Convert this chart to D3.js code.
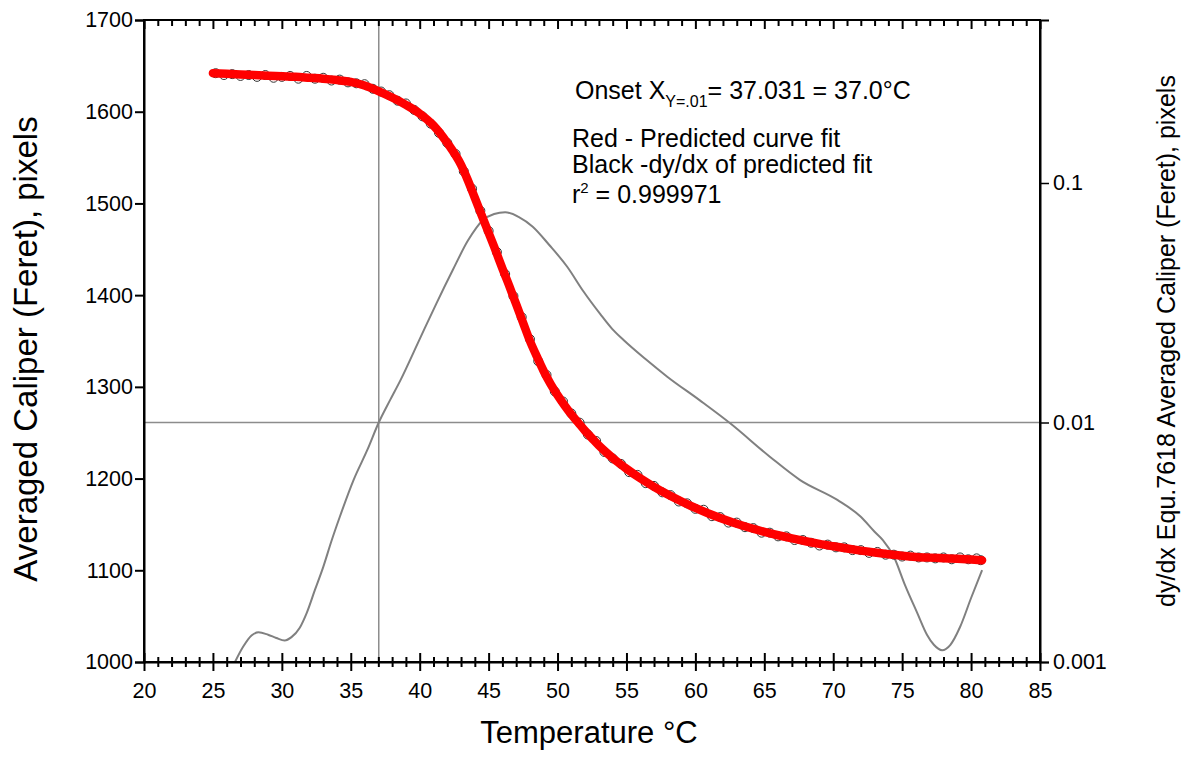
<!DOCTYPE html>
<html>
<head>
<meta charset="utf-8">
<script src="https://cdn.jsdelivr.net/npm/d3@7"></script>
<style>
  body { margin: 0; background: #fff; }
  svg { font-family: "Liberation Sans", Arial, sans-serif; }
</style>
</head>
<body>
<div id="vis"></div>
<script>
// measured points (open circles)
const obsTemp = [25.2, 25.8, 26.4, 27.0, 27.6, 28.2, 28.8, 29.4, 30.0, 30.6, 31.2, 31.8, 32.4, 33.0, 33.6, 34.2, 34.8, 35.4, 36.0, 36.6,
    37.2, 37.8, 38.4, 39.0, 39.6, 40.2, 40.8, 41.4, 42.0, 42.6, 43.2, 43.8, 44.4, 45.0, 45.6, 46.2, 46.8, 47.4, 48.0, 48.6,
    49.2, 49.8, 50.4, 51.0, 51.6, 52.2, 52.8, 53.4, 54.0, 54.6, 55.2, 55.8, 56.4, 57.0, 57.6, 58.2, 58.8, 59.4, 60.0, 60.6,
    61.2, 61.8, 62.4, 63.0, 63.6, 64.2, 64.8, 65.4, 66.0, 66.6, 67.2, 67.8, 68.4, 69.0, 69.6, 70.2, 70.8, 71.4, 72.0, 72.6,
    73.2, 73.8, 74.4, 75.0, 75.6, 76.2, 76.8, 77.4, 78.0, 78.6, 79.2, 79.8, 80.4, 80.7];
const obsCaliper = [1642, 1640, 1641, 1639, 1640, 1638, 1640, 1637, 1638, 1639, 1636, 1639, 1636, 1637, 1634, 1635, 1632, 1631, 1630, 1625,
    1622, 1618, 1612, 1609, 1602, 1595, 1587, 1577, 1566, 1554, 1535, 1516, 1492, 1470, 1447, 1423, 1399, 1376, 1352, 1328,
    1313, 1295, 1284, 1271, 1261, 1248, 1241, 1229, 1222, 1216, 1207, 1204, 1195, 1192, 1185, 1182, 1175, 1173, 1167, 1166,
    1159, 1158, 1152, 1152, 1147, 1146, 1141, 1141, 1137, 1137, 1133, 1133, 1130, 1127, 1128, 1125, 1125, 1122, 1122, 1119,
    1120, 1117, 1117, 1115, 1116, 1114, 1114, 1113, 1114, 1112, 1114, 1112, 1113, 1111];

// predicted fit (red)
const fitTemp = [25, 26, 27, 28, 29, 30, 31, 32, 33, 34, 35, 36, 37, 38, 39, 40, 41, 42, 43, 43.5,
    44, 44.5, 45, 45.5, 46, 46.5, 47, 47.5, 48, 48.5, 49, 49.5, 50, 50.5, 51, 51.5, 52, 52.5, 53, 53.5,
    54, 54.5, 55, 56, 57, 58, 59, 60, 61, 62, 63, 64, 65, 66, 67, 68, 69, 70, 71, 72,
    73, 74, 75, 76, 77, 78, 79, 80, 80.8];
const fitCaliper = [1642, 1641.3, 1640.6, 1640, 1639.3, 1638.6, 1638, 1637, 1636, 1634.5, 1632.5, 1628.5, 1622.5, 1615.5, 1607.5, 1598, 1585, 1566, 1542, 1525,
    1506, 1487, 1468, 1449, 1429, 1410, 1390, 1370, 1350, 1333, 1317, 1303, 1291, 1280, 1270, 1261, 1252, 1244, 1236, 1229,
    1222.5, 1216.4, 1210.7, 1200.3, 1191, 1182.6, 1175, 1168, 1161.6, 1155.9, 1150.7, 1146.1, 1141.9, 1138.2, 1134.8, 1131.7, 1128.8, 1126.2, 1123.7, 1121.4,
    1119.3, 1117.5, 1115.9, 1114.6, 1113.8, 1113.2, 1112.6, 1111.8, 1111];

// -dy/dx of fit (grey, right log axis)
const derivTemp = [26.6, 27.2, 27.8, 28.3, 29.0, 29.6, 30.2, 30.7, 31.3, 31.8, 32.4, 33.0, 33.6, 34.2, 35.2, 36.2, 37.03, 37.85, 38.6, 40.0,
    41.2, 42.4, 43.5, 44.6, 45.4, 46.2, 47.2, 48.2, 49.4, 50.7, 51.86, 53.09, 53.96, 54.79, 56.38, 57.98, 60.3, 62.5, 65.4, 67.6,
    70.3, 72.0, 73.0, 73.6, 74.4, 75.2, 76.1, 76.8, 77.3, 77.9, 78.5, 79.2, 80.0, 80.8];
const derivValue = [0.00100, 0.00116, 0.00129, 0.00133, 0.00130, 0.00126, 0.00123, 0.00127, 0.00139, 0.00160, 0.00200, 0.00249, 0.00320, 0.00403, 0.00575, 0.00768, 0.0100, 0.0124, 0.0150, 0.0223,
    0.0313, 0.0433, 0.0575, 0.0701, 0.0742, 0.0755, 0.0721, 0.0657, 0.0551, 0.0447, 0.0354, 0.0284, 0.0246, 0.0221, 0.0184, 0.0155, 0.0124, 0.00995, 0.00720, 0.00575,
    0.00475, 0.00404, 0.00350, 0.00323, 0.00275, 0.00210, 0.00160, 0.00130, 0.00118, 0.00112, 0.00118, 0.00140, 0.00185, 0.00242];

const xMajorTicks = [20, 25, 30, 35, 40, 45, 50, 55, 60, 65, 70, 75, 80, 85];
const leftTicks = [1000, 1100, 1200, 1300, 1400, 1500, 1600, 1700];
const rightTicks = [0.001, 0.01, 0.1];
const onsetX = 37.031;
const onsetY = 0.01;

const W = 1188, H = 766;
const m = { top: 20, right: 148, bottom: 104, left: 144 };
const width = W - m.left - m.right;
const height = H - m.top - m.bottom;

const svg = d3.select('#vis').append('svg')
    .attr('width', W)
    .attr('height', H);
const g = svg.append('g')
    .attr('transform', 'translate(' + m.left + ', ' + m.top + ')');

const x = d3.scaleLinear().domain([20, 85]).range([0, width]);
const yL = d3.scaleLinear().domain([1000, 1700]).range([height, 0]);
const yR = d3.scaleLog().domain([0.001, 0.4793]).range([height, 0]);

// onset reference lines
g.append('line')
    .attr('x1', x(onsetX)).attr('x2', x(onsetX))
    .attr('y1', 0).attr('y2', height)
    .attr('stroke', '#8c8c8c').attr('stroke-width', 1.5);
g.append('line')
    .attr('x1', 0).attr('x2', width)
    .attr('y1', yR(onsetY)).attr('y2', yR(onsetY))
    .attr('stroke', '#8c8c8c').attr('stroke-width', 1.5);

// derivative curve
const deriv = derivTemp.map((t, i) => ({ t: t, v: derivValue[i] }));
g.append('path')
    .datum(deriv)
    .attr('fill', 'none')
    .attr('stroke', '#808080')
    .attr('stroke-width', 2)
    .attr('d', d3.line().x(d => x(d.t)).y(d => yR(d.v)).curve(d3.curveMonotoneX));

// observed points
const obs = obsTemp.map((t, i) => ({ t: t, c: obsCaliper[i] }));
g.selectAll('circle.obs')
    .data(obs)
    .enter()
    .append('circle')
    .attr('class', 'obs')
    .attr('cx', d => x(d.t))
    .attr('cy', d => yL(d.c))
    .attr('r', 4.5)
    .attr('fill', 'none')
    .attr('stroke', '#333')
    .attr('stroke-width', 1);

// red fit
const fit = fitTemp.map((t, i) => ({ t: t, c: fitCaliper[i] }));
g.append('path')
    .datum(fit)
    .attr('fill', 'none')
    .attr('stroke', '#ff0000')
    .attr('stroke-width', 8.5)
    .attr('stroke-linecap', 'round')
    .attr('d', d3.line().x(d => x(d.t)).y(d => yL(d.c)).curve(d3.curveMonotoneX));

// frame
g.append('rect')
    .attr('width', width).attr('height', height)
    .attr('fill', 'none').attr('stroke', '#000').attr('stroke-width', 2);

// bottom axis: ticks cross the line
const xb = g.append('g')
    .attr('class', 'x-axis')
    .attr('transform', 'translate(0, ' + height + ')')
    .call(d3.axisBottom(x).tickValues(d3.range(20, 86, 1)).tickFormat(d => xMajorTicks.includes(d) ? d : '').tickSize(0).tickPadding(21));
xb.select('.domain').attr('stroke-width', 2);
xb.selectAll('.tick line')
    .attr('y1', d => xMajorTicks.includes(d) ? -9 : -5)
    .attr('y2', d => xMajorTicks.includes(d) ? 9 : 5)
    .attr('stroke-width', 2);
xb.selectAll('.tick text').attr('font-size', '21.5px').attr('font-family', 'Liberation Sans, Arial, sans-serif').attr('fill', '#000');

// top axis: ticks inward
const xt = g.append('g')
    .attr('class', 'x-top')
    .call(d3.axisTop(x).tickValues(d3.range(20, 86, 1)).tickFormat('').tickSize(0));
xt.select('.domain').remove();
xt.selectAll('.tick line')
    .attr('y1', 0)
    .attr('y2', d => xMajorTicks.includes(d) ? 9 : 6)
    .attr('stroke-width', 2);

// left axis
const yl = g.append('g')
    .attr('class', 'y-axis')
    .call(d3.axisLeft(yL).tickValues(leftTicks).tickSize(9).tickPadding(2).tickFormat(d3.format('d')));
yl.select('.domain').attr('stroke-width', 2);
yl.selectAll('.tick line').attr('stroke-width', 2);
yl.selectAll('.tick text').attr('font-size', '21.5px').attr('font-family', 'Liberation Sans, Arial, sans-serif').attr('fill', '#000');

// right axis (log)
const yr = g.append('g')
    .attr('class', 'y-right')
    .attr('transform', 'translate(' + width + ', 0)')
    .call(d3.axisRight(yR).tickValues(rightTicks).tickSize(9).tickPadding(4).tickFormat(d => String(d)));
yr.select('.domain').attr('stroke-width', 2);
yr.selectAll('.tick line').attr('stroke-width', 1.5);
yr.selectAll('.tick text').attr('font-size', '21.5px').attr('font-family', 'Liberation Sans, Arial, sans-serif').attr('fill', '#000');

// axis titles
svg.append('text')
    .attr('x', 589).attr('y', 743)
    .attr('text-anchor', 'middle')
    .attr('font-size', '31px')
    .text('Temperature °C');

svg.append('text')
    .attr('transform', 'translate(37, 349) rotate(-90)')
    .attr('text-anchor', 'middle')
    .attr('font-size', '33px')
    .text('Averaged Caliper (Feret), pixels');

svg.append('text')
    .attr('transform', 'translate(1175, 341) rotate(-90)')
    .attr('text-anchor', 'middle')
    .attr('font-size', '25px')
    .text('dy/dx Equ.7618 Averaged Caliper (Feret), pixels');

// annotation
const onset = svg.append('text')
    .attr('x', 575).attr('y', 99)
    .attr('font-size', '25px');
onset.append('tspan').text('Onset X');
onset.append('tspan').attr('dy', 8).attr('font-size', '16px').text('Y=.01');
onset.append('tspan').attr('dy', -8).text('= 37.031 = 37.0°C');

const notes = ['Red - Predicted curve fit', 'Black -dy/dx of predicted fit'];
svg.selectAll('text.note')
    .data(notes)
    .enter()
    .append('text')
    .attr('class', 'note')
    .attr('x', 572)
    .attr('y', (d, i) => 147 + i * 26)
    .attr('font-size', '25px')
    .text(d => d);

const r2 = svg.append('text')
    .attr('x', 572).attr('y', 203)
    .attr('font-size', '25px');
r2.append('tspan').text('r');
r2.append('tspan').attr('dy', -10).attr('font-size', '15px').text('2');
r2.append('tspan').attr('dy', 10).text(' = 0.999971');
</script>
</body>
</html>
